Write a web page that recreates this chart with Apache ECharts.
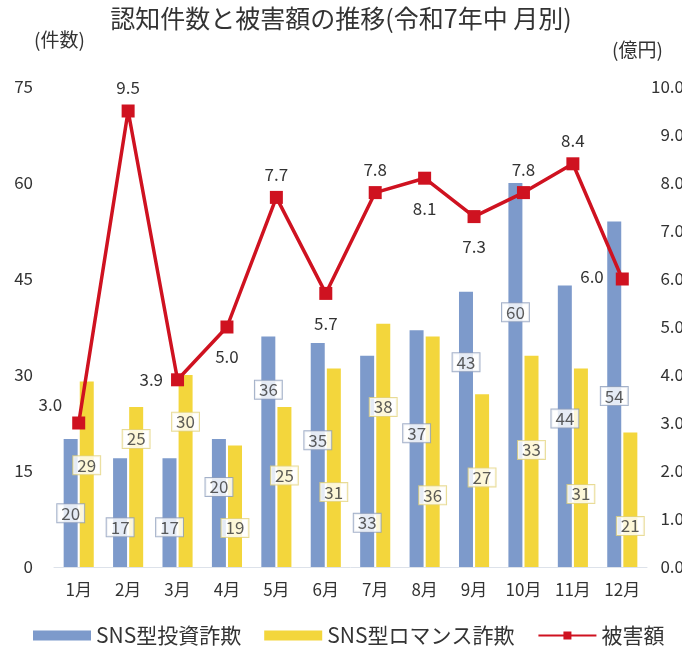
<!DOCTYPE html>
<html>
<head>
<meta charset="utf-8">
<script src="https://cdn.jsdelivr.net/npm/echarts@6/dist/echarts.min.js"></script>
<style>
  html, body { margin: 0; padding: 0; background: #fff; }
  #main { width: 682px; height: 655px; }
</style>
</head>
<body>
<div id="main"></div>
<script>
// データ
const months = ['1月', '2月', '3月', '4月', '5月', '6月', '7月', '8月', '9月', '10月', '11月', '12月'];
const investCount = [20, 17, 17, 20, 36, 35, 33, 37, 43, 60, 44, 54];
const romanceCount = [29, 25, 30, 19, 25, 31, 38, 36, 27, 33, 31, 21];
const damage = [3.0, 9.5, 3.9, 5.0, 7.7, 5.7, 7.8, 8.1, 7.3, 7.8, 8.4, 6.0];
const leftTicks = [0, 15, 30, 45, 60, 75];
const rightTicks = [0, 1, 2, 3, 4, 5, 6, 7, 8, 9, 10];

// 枠付きラベルの高さ（件数の目盛りで）
const investLabelAt = [8.4, 6.2, 6.2, 12.5, 27.7, 19.8, 6.9, 20.9, 32.0, 39.8, 23.2, 26.7];
const romanceLabelAt = [15.9, 20.0, 22.7, 6.1, 14.3, 11.7, 25.0, 11.2, 14.0, 18.3, 11.4, 6.4];
// 被害額ラベルの位置
const damageLabelPos = ['left', 'top', 'left', 'bottom', 'top', 'bottom', 'top', 'bottom', 'bottom', 'top', 'top', 'left'];

const BLUE = '#7d9acb';
const YELLOW = '#f3d63c';
const RED = '#cf1220';
const FONT = '"Noto Sans CJK JP", "Noto Sans", sans-serif';

const myChart = echarts.init(document.getElementById('main'));

const boxLabel = (border, dx) => ({
  show: true,
  position: 'inside',
  offset: [dx, 0],
  formatter: p => p.data[2],
  color: '#333',
  fontSize: 17,
  fontFamily: FONT,
  backgroundColor: '#fff',
  borderColor: border,
  borderWidth: 1,
  padding: [1, 4, 0, 4]
});

const option = {
  textStyle: { fontFamily: FONT },
  title: {
    text: '認知件数と被害額の推移(令和7年中 月別)',
    left: 'center',
    top: 1,
    textStyle: { fontSize: 25, fontWeight: 'normal', color: '#333', fontFamily: FONT }
  },
  legend: {
    bottom: 4,
    left: 28,
    itemWidth: 58,
    itemHeight: 10,
    itemGap: 23,
    textStyle: { fontSize: 21, color: '#333', fontFamily: FONT },
    data: [
      { name: 'SNS型投資詐欺', icon: 'rect' },
      { name: 'SNS型ロマンス詐欺', icon: 'rect' },
      { name: '被害額' }
    ]
  },
  grid: { left: 54, right: 35, top: 87, bottom: 88, outerBoundsMode: 'none' },
  xAxis: {
    type: 'category',
    data: months,
    axisTick: { show: false },
    axisLine: { lineStyle: { color: '#dde2ea', width: 1 } },
    axisLabel: { color: '#333', fontSize: 17, margin: 14 }
  },
  yAxis: [
    {
      type: 'value',
      min: leftTicks[0],
      max: leftTicks[leftTicks.length - 1],
      interval: 15,
      name: '(件数)',
      nameGap: 38,
      nameTextStyle: { color: '#333', fontSize: 19, align: 'left', padding: [0, 0, 0, -20] },
      splitLine: { show: false },
      axisLine: { show: false },
      axisTick: { show: false },
      axisLabel: { color: '#333', fontSize: 17, margin: 21 }
    },
    {
      type: 'value',
      min: rightTicks[0],
      max: rightTicks[rightTicks.length - 1],
      interval: 1,
      name: '(億円)',
      nameGap: 28,
      nameTextStyle: { color: '#333', fontSize: 19, align: 'left', padding: [0, 0, 0, -35] },
      splitLine: { show: false },
      axisLine: { show: false },
      axisTick: { show: false },
      axisLabel: {
        color: '#333', fontSize: 17, margin: 37, align: 'right',
        formatter: v => v.toFixed(1)
      }
    }
  ],
  series: [
    {
      name: 'SNS型投資詐欺',
      type: 'bar',
      barWidth: 14,
      barGap: '15%',
      itemStyle: { color: BLUE },
      data: investCount
    },
    {
      name: 'SNS型ロマンス詐欺',
      type: 'bar',
      barWidth: 14,
      itemStyle: { color: YELLOW },
      data: romanceCount
    },
    {
      name: 'investLabels',
      type: 'scatter',
      symbolSize: 1,
      itemStyle: { color: 'rgba(0,0,0,0)' },
      label: boxLabel('#8d9dbb', -8),
      z: 5,
      silent: true,
      data: months.map((m, i) => [i, investLabelAt[i], investCount[i]])
    },
    {
      name: 'romanceLabels',
      type: 'scatter',
      symbolSize: 1,
      itemStyle: { color: 'rgba(0,0,0,0)' },
      label: boxLabel('#e2d27a', 8),
      z: 5,
      silent: true,
      data: months.map((m, i) => [i, romanceLabelAt[i], romanceCount[i]])
    },
    {
      name: '被害額',
      type: 'line',
      yAxisIndex: 1,
      symbol: 'rect',
      symbolSize: 13,
      z: 10,
      itemStyle: { color: RED },
      lineStyle: { color: RED, width: 3.5 },
      data: damage.map((v, i) => ({
        value: v,
        label: {
          show: true,
          position: damageLabelPos[i],
          distance: damageLabelPos[i] === 'bottom' ? 15 : 8,
          offset: i === 0 ? [-2, -18] : (i === 11 ? [-4, -2] : [0, 0]),
          formatter: p => p.value.toFixed(1),
          color: '#333',
          fontSize: 17
        }
      }))
    }
  ]
};

myChart.setOption(option);
</script>
</body>
</html>
